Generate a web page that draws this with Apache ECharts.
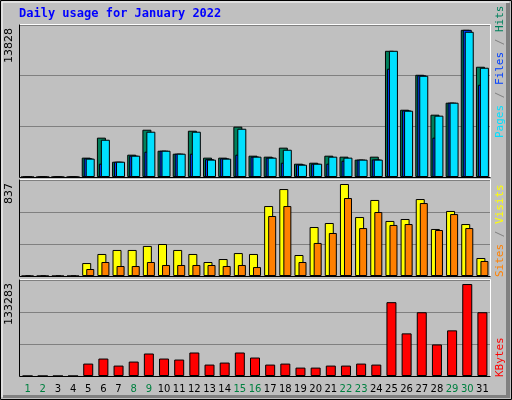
<!DOCTYPE html><html><head><meta charset="utf-8">
<script src="https://cdn.jsdelivr.net/npm/echarts@6/dist/echarts.min.js"></script>
<style>html,body{margin:0;padding:0;background:#fff}#c{width:512px;height:400px}</style></head><body><div id="c"></div>
<script>
const days=['1','2','3','4','5','6','7','8','9','10','11','12','13','14','15','16','17','18','19','20','21','22','23','24','25','26','27','28','29','30','31'];
const weekend=['1','2','8','9','15','16','22','23','29','30'];
const hits=[0,0,0,0,1760,3580,1390,2030,4300,2390,2120,4210,1760,1760,4580,1940,1850,2670,1210,1300,1940,1850,1580,1850,11480,6120,9300,5670,6760,13390,10030];
const files=[0,0,0,0,1700,1210,1390,1940,2300,2390,2120,2120,1620,1700,2030,1850,1760,1300,1150,1210,1210,1480,1580,1600,9850,6060,9250,3580,6760,13390,8390];
const pages=[0,0,0,0,1670,3390,1390,1940,4120,2390,2120,4120,1580,1670,4390,1850,1760,2480,1120,1210,1850,1760,1580,1580,11480,6030,9210,5580,6760,13210,9940];
const sites=[0,0,0,0,113,192,227,227,262,279,227,192,122,148,200,192,610,758,183,427,462,802,514,663,480,497,671,410,567,453,157];
const visits=[0,0,0,0,61,122,87,87,122,96,96,96,96,87,96,78,523,610,122,288,375,680,418,558,445,453,636,401,540,418,131];
const kbytes=[0,0,0,0,17240,24230,14450,20040,31220,24230,22830,32620,15840,18640,32620,25630,15840,17240,11650,11650,14450,14450,17240,15840,102520,59180,88540,43800,63380,127680,88540];
const maxHits=13828, maxSites=837, maxKB=133283;

const L=20,R=22,W=470;
const panels=[[25,152],[180,96],[280,96]];
const grids=panels.map(p=>({left:L,top:p[0],width:W,height:p[1],show:true,backgroundColor:'#c0c0c0',borderWidth:0}));
const xAxes=panels.map((p,i)=>({type:'category',gridIndex:i,data:days,axisLine:{show:false},axisTick:{show:false},
  axisLabel:{show:i===2,interval:0,margin:8,fontFamily:'DejaVu Sans',fontSize:10,
  color:(v)=>weekend.includes(v)?'#008040':'#000000'}}));
const maxes=[maxHits,maxSites,maxKB];
const yAxes=maxes.map((m,i)=>({type:'value',gridIndex:i,min:0,max:m,interval:m/3,axisLabel:{show:false},axisLine:{show:false},axisTick:{show:false},
  splitLine:{lineStyle:{color:'#808080',width:1}}}));
const bs=c=>({color:c,borderColor:'#000',borderWidth:1});
const series=[
 {type:'bar',xAxisIndex:0,yAxisIndex:0,data:hits,barWidth:9,barGap:'-78%',itemStyle:bs('#00805c')},
 {type:'bar',xAxisIndex:0,yAxisIndex:0,data:files,barWidth:9,barGap:'-78%',itemStyle:bs('#0040ff')},
 {type:'bar',xAxisIndex:0,yAxisIndex:0,data:pages,barWidth:9,barGap:'-78%',itemStyle:bs('#00e0ff')},
 {type:'bar',xAxisIndex:1,yAxisIndex:1,data:sites,barWidth:9,barGap:'-55%',itemStyle:bs('#ffff00')},
 {type:'bar',xAxisIndex:1,yAxisIndex:1,data:visits,barWidth:8,barGap:'-55%',itemStyle:bs('#ff8000')},
 {type:'bar',xAxisIndex:2,yAxisIndex:2,data:kbytes,barWidth:10,itemStyle:bs('#ff0000')}
];
const line=(x1,y1,x2,y2,c)=>({type:'line',shape:{x1,y1,x2,y2},style:{stroke:c,lineWidth:1},z:10});
const g=[
 {type:'rect',shape:{x:0.5,y:0.5,width:511,height:399},style:{fill:'#c0c0c0',stroke:'#000',lineWidth:1},z:-10},
 line(2,2,2,397,'#ffffff'),line(2,2,509,2,'#ffffff'),
 {type:'rect',shape:{x:506,y:3,width:4,height:395},style:{fill:'#808080'},z:-5},
 {type:'rect',shape:{x:3,y:395,width:507,height:3},style:{fill:'#808080'},z:-5},
 {type:'text',left:19,top:8,style:{text:'Daily usage for January 2022',fill:'#0000ff',font:'bold 12px "DejaVu Sans Mono"'}}
];
panels.forEach(p=>{
 g.push(line(L-0.5,p[0]-0.5,L+W+0.5,p[0]-0.5,'#ffffff'));
 g.push(line(L+W+0.5,p[0]-0.5,L+W+0.5,p[0]+p[1]+0.5,'#ffffff'));
 g.push(line(L-0.5,p[0]-0.5,L-0.5,p[0]+p[1]+0.5,'#000000'));
 g.push(line(L-0.5,p[0]+p[1]+0.5,L+W+0.5,p[0]+p[1]+0.5,'#000000'));
});
const leftLab=[['13828',28],['837',183],['133283',283]];
leftLab.forEach(([t,y])=>g.push({type:'text',x:9,y:y,rotation:Math.PI/2,style:{text:t,fill:'#000',font:'11px "DejaVu Sans"',align:'right',verticalAlign:'middle'}}));
function rlab(parts,yBottom){
  g.push({type:'text',x:500,y:yBottom,rotation:Math.PI/2,style:{align:'left',verticalAlign:'middle',
   text:parts.map((p,i)=>'{s'+i+'|'+p[0]+'}').join(''),
   rich:Object.fromEntries(parts.map((p,i)=>['s'+i,{fill:p[1],font:'11px "DejaVu Sans Mono"'}]))}});
}
rlab([['Pages','#00e0ff'],[' / ','#808080'],['Files','#0040ff'],[' / ','#808080'],['Hits','#00805c']],138);
rlab([['Sites','#ff8000'],[' / ','#808080'],['Visits','#ffff00']],277);
rlab([['KBytes','#ff0000']],377);
const ch=echarts.init(document.getElementById('c'));
ch.setOption({animation:false,grid:grids,xAxis:xAxes,yAxis:yAxes,series,graphic:g});
</script></body></html>
